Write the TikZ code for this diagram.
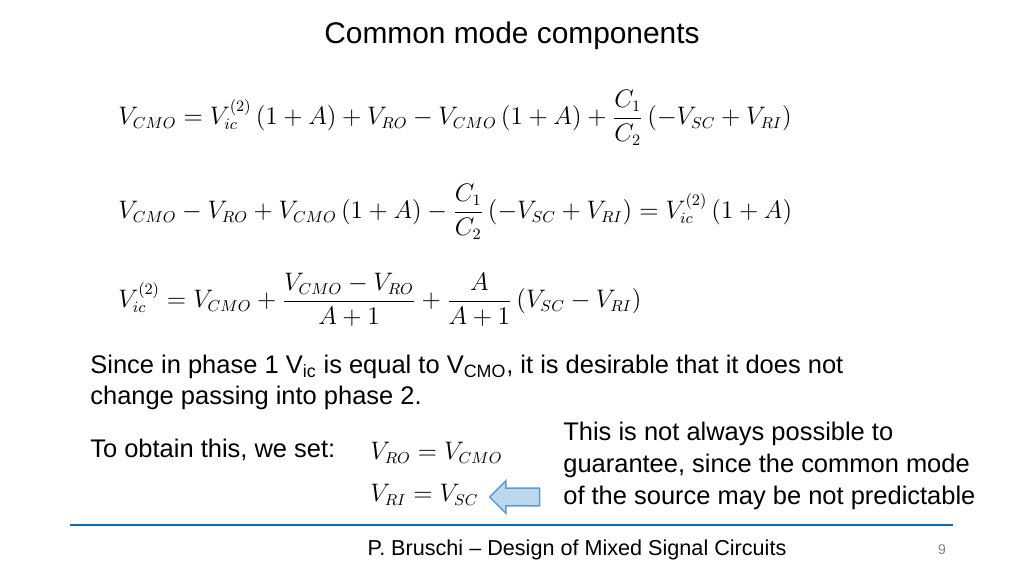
\documentclass[tikz,border=0pt]{standalone}
\usepackage{fontspec}
\setmainfont{Liberation Sans}
\usetikzlibrary{shapes.arrows}
\definecolor{rulecol}{RGB}{0,112,192}
\definecolor{arrowfill}{RGB}{189,215,238}
\definecolor{arrowline}{RGB}{91,155,213}
\tikzset{
    eq/.style={anchor=west,inner sep=0pt,font=\fontsize{13.3}{16}\selectfont},
    txt/.style={anchor=west,inner sep=0pt,font=\fontsize{14.5}{18}\selectfont},
    x=0.02cm,y=-0.02cm
}
\begin{document}
\begin{tikzpicture}
    \useasboundingbox (0,0) rectangle (1024,576);
    % title
    \node[font=\fontsize{17}{20}\selectfont] (title) at (512,36) {Common mode components};
    % equations
    \node[eq] (eqa) at (118,118) {$\displaystyle V_{CMO}=V_{ic}^{(2)}\left(1+A\right)+V_{RO}-V_{CMO}\left(1+A\right)+\frac{C_1}{C_2}\left(-V_{SC}+V_{RI}\right)$};
    \node[eq] (eqb) at (118,212) {$\displaystyle V_{CMO}-V_{RO}+V_{CMO}\left(1+A\right)-\frac{C_1}{C_2}\left(-V_{SC}+V_{RI}\right)=V_{ic}^{(2)}\left(1+A\right)$};
    \node[eq] (eqc) at (118,300) {$\displaystyle V_{ic}^{(2)}=V_{CMO}+\frac{V_{CMO}-V_{RO}}{A+1}+\frac{A}{A+1}\left(V_{SC}-V_{RI}\right)$};
    % text
    \node[txt] (since) at (90,367) {Since in phase 1 V\textsubscript{ic} is equal to V\textsubscript{CMO}, it is desirable that it does not};
    \node[txt] (change) at (90,398) {change passing into phase 2.};
    \node[txt] (obtain) at (90,450) {To obtain this, we set:};
    \node[eq] (setro) at (370,453) {$V_{RO}=V_{CMO}$};
    \node[eq] (setri) at (370,495) {$V_{RI}=V_{SC}$};
    \node[single arrow,draw=arrowline,fill=arrowfill,thick,shape border rotate=180,
          minimum width=0.65cm,single arrow head extend=2pt,
          minimum height=1.0cm,inner sep=2pt] (hint) at (519,497) {};
    \node[txt,align=left] (note) at (563,466) {This is not always possible to\\guarantee, since the common mode\\of the source may be not predictable};
    % footer
    \draw[rulecol,line width=1.5pt] (70,525) -- (953,525);
    \node[font=\fontsize{12.3}{15}\selectfont] (footer) at (577,550) {P. Bruschi -- Design of Mixed Signal Circuits};
    \node[font=\fontsize{8}{10}\selectfont,text=gray] (page) at (942,550) {9};
\end{tikzpicture}
\end{document}
